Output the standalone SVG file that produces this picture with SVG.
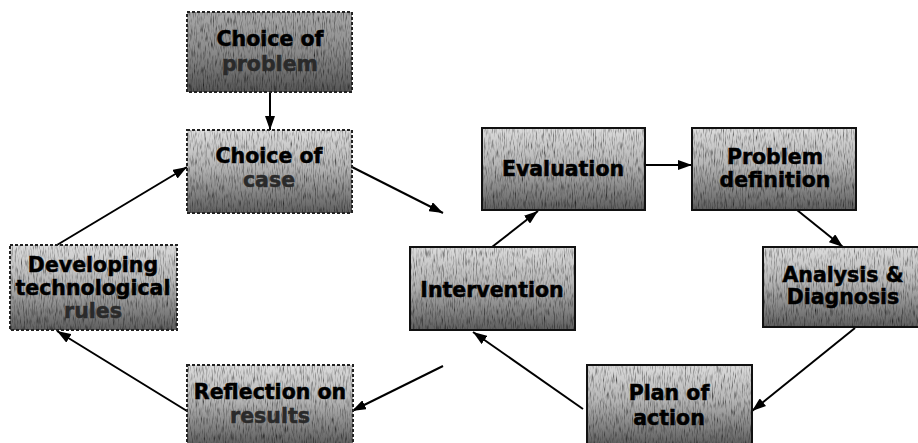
<svg xmlns="http://www.w3.org/2000/svg" width="918" height="443" viewBox="0 0 918 443">
<style>
.box{stroke:#111;stroke-width:2;fill:none}
.dash{stroke:#222;stroke-width:2;stroke-dasharray:3 2;fill:none}
.bg{fill:url(#g1);filter:url(#grain)}
.bgd{fill:url(#g2);filter:url(#grain)}
text{font-family:"DejaVu Sans","Verdana",sans-serif;font-weight:bold;font-size:20.5px;fill:#000;stroke:#000;stroke-width:0.5;text-anchor:middle}
.faint{fill:#2a2a2a;stroke:#2a2a2a}
.conn line{stroke:#000;stroke-width:2;marker-end:url(#ah)}
</style>
<defs>
<linearGradient id="g1" x1="0" y1="0" x2="0" y2="1">
<stop offset="0" stop-color="#dcdcdc"/>
<stop offset="0.45" stop-color="#b4b4b4"/>
<stop offset="1" stop-color="#5e5e5e"/>
</linearGradient>
<linearGradient id="g2" x1="0" y1="0" x2="0" y2="1">
<stop offset="0" stop-color="#a8a8a8"/>
<stop offset="0.5" stop-color="#8a8a8a"/>
<stop offset="1" stop-color="#555"/>
</linearGradient>
<filter id="grain" x="0" y="0" width="1" height="1">
<feTurbulence type="fractalNoise" baseFrequency="0.9 0.12" numOctaves="2" seed="4" result="n"/>
<feColorMatrix in="n" type="matrix" values="0 0 0 0 0  0 0 0 0 0  0 0 0 0 0  0 0 0 -2 1.1" result="a"/>
<feComposite in="a" in2="SourceGraphic" operator="in" result="c"/>
<feMerge><feMergeNode in="SourceGraphic"/><feMergeNode in="c"/></feMerge>
</filter>
<marker id="ah" markerUnits="userSpaceOnUse" markerWidth="14" markerHeight="10" refX="14" refY="5" orient="auto">
<path d="M0,0 L14,5 L0,10 z" fill="#000"/>
</marker>
</defs>

<g class="conn" id="connectors">
<line x1="270" y1="93" x2="270" y2="130"/>
<line x1="352" y1="167" x2="443" y2="213"/>
<line x1="492" y1="247" x2="538" y2="211"/>
<line x1="645" y1="165" x2="692" y2="165"/>
<line x1="797" y1="210" x2="843" y2="247"/>
<line x1="855" y1="328" x2="752" y2="411"/>
<line x1="583" y1="409" x2="473" y2="332"/>
<line x1="443" y1="366" x2="352" y2="411"/>
<line x1="187" y1="411" x2="57" y2="331"/>
<line x1="57" y1="245" x2="187" y2="167"/>
</g>

<g id="choice-problem">
<rect class="bgd" x="187" y="12" width="165" height="80"/>
<rect class="dash" x="187" y="12" width="165" height="80"/>
<text x="270" y="46">Choice of</text>
<text x="270" y="71" class="faint">problem</text>
</g>

<g id="choice-case">
<rect class="bg" x="187" y="130" width="165" height="83"/>
<rect class="dash" x="187" y="130" width="165" height="83"/>
<text x="269" y="163">Choice of</text>
<text x="269" y="187" class="faint">case</text>
</g>

<g id="developing">
<rect class="bg" x="10" y="245" width="167" height="85"/>
<rect class="dash" x="10" y="245" width="167" height="85"/>
<text x="93" y="272">Developing</text>
<text x="93" y="295">technological</text>
<text x="93" y="318" class="faint">rules</text>
</g>

<g id="reflection">
<rect class="bg" x="187" y="365" width="166" height="80"/>
<rect class="dash" x="187" y="365" width="166" height="80"/>
<text x="270" y="399">Reflection on</text>
<text x="270" y="423" class="faint">results</text>
</g>

<g id="evaluation">
<rect class="bg" x="482" y="128" width="163" height="82"/>
<rect class="box" x="482" y="128" width="163" height="82"/>
<text x="563" y="176">Evaluation</text>
</g>

<g id="problem-definition">
<rect class="bg" x="692" y="128" width="164" height="82"/>
<rect class="box" x="692" y="128" width="164" height="82"/>
<text x="775" y="164">Problem</text>
<text x="775" y="187">definition</text>
</g>

<g id="intervention">
<rect class="bg" x="410" y="247" width="165" height="83"/>
<rect class="box" x="410" y="247" width="165" height="83"/>
<text x="492" y="297">Intervention</text>
</g>

<g id="analysis">
<rect class="bg" x="763" y="247" width="157" height="80"/>
<rect class="box" x="763" y="247" width="157" height="80"/>
<text x="843" y="282">Analysis &amp;</text>
<text x="843" y="304">Diagnosis</text>
</g>

<g id="plan">
<rect class="bg" x="587" y="365" width="165" height="80"/>
<rect class="box" x="587" y="365" width="165" height="80"/>
<text x="669" y="400">Plan of</text>
<text x="669" y="425">action</text>
</g>
</svg>
